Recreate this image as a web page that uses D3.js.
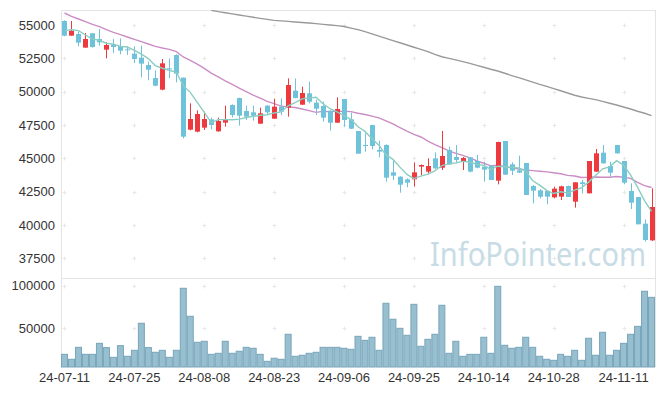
<!DOCTYPE html>
<html>
<head>
<meta charset="utf-8">
<script src="https://cdn.jsdelivr.net/npm/d3@7"></script>
<style>
  body { margin: 0; background: #fff; }
  svg { display: block; font-family: "Noto Sans CJK KR", "Noto Sans", sans-serif; }
</style>
</head>
<body>
<svg id="chart" width="665" height="396"></svg>
<script>
// trading days (yy-mm-dd)
const dates = [
  "24-07-11","24-07-12","24-07-15","24-07-16","24-07-17","24-07-18","24-07-19","24-07-22","24-07-23","24-07-24",
  "24-07-25","24-07-26","24-07-29","24-07-30","24-07-31","24-08-01","24-08-02","24-08-05","24-08-06","24-08-07",
  "24-08-08","24-08-09","24-08-12","24-08-13","24-08-14","24-08-16","24-08-19","24-08-20","24-08-21","24-08-22",
  "24-08-23","24-08-26","24-08-27","24-08-28","24-08-29","24-08-30","24-09-02","24-09-03","24-09-04","24-09-05",
  "24-09-06","24-09-09","24-09-10","24-09-11","24-09-12","24-09-13","24-09-19","24-09-20","24-09-23","24-09-24",
  "24-09-25","24-09-26","24-09-27","24-09-30","24-10-02","24-10-04","24-10-07","24-10-08","24-10-10","24-10-11",
  "24-10-14","24-10-15","24-10-16","24-10-17","24-10-18","24-10-21","24-10-22","24-10-23","24-10-24","24-10-25",
  "24-10-28","24-10-29","24-10-30","24-10-31","24-11-01","24-11-04","24-11-05","24-11-06","24-11-07","24-11-08",
  "24-11-11","24-11-12","24-11-13","24-11-14","24-11-15"
];

const open = [
  55300,54200,54325,53300,54375,53950,53150,53550,53425,53175,
  52850,52550,52000,51025,50150,51750,52750,51050,47150,47000,
  47300,47925,47025,47675,49000,49525,48550,48450,47600,48950,
  47975,48875,48800,50075,49025,49875,49175,48925,48575,47675,
  49450,47925,47050,46000,47500,45625,46000,43950,43625,43425,
  43425,44375,44000,45000,44300,45625,45100,44750,45075,44800,
  44375,44450,43325,46300,44550,44100,44650,42925,42600,42550,
  42075,42125,42925,41750,43200,42375,44000,45425,44425,46000,
  44800,42550,42100,40100,38850
];
const high = [
  55350,55300,54500,54400,54400,54700,53700,53950,54000,53400,
  53400,53450,52250,51600,52450,52500,52800,51050,49125,48600,
  48500,48050,48050,48950,49050,49550,48950,48950,48800,49000,
  49475,49500,51000,51000,50375,50750,49400,49250,48600,49575,
  49450,48425,47050,46875,47500,46325,46050,44875,43650,43500,
  44700,44550,45000,45450,47050,45875,46000,45100,45100,45250,
  44750,44500,46250,46300,44700,45200,44650,43000,42700,42600,
  42875,42950,42950,43200,43375,44800,45700,46000,44750,46000,
  44800,43125,42100,40425,42750
];
const low = [
  54150,54200,53400,53300,53300,53450,52500,52900,52800,52750,
  52150,51075,50850,50400,50100,51000,50700,46500,47100,46950,
  47125,47175,47000,47375,48075,47450,47875,47825,47600,48250,
  47950,48250,48125,49500,49000,49125,48250,47750,47075,47650,
  47375,47200,45350,45500,45675,45075,43250,43375,42425,42825,
  42875,43750,43800,44200,44125,44500,44625,44125,43950,44250,
  43250,43375,43050,43750,43750,43900,42250,41625,42000,41550,
  42000,41875,42100,41300,42375,42375,44000,44600,43625,45350,
  43050,41200,40050,38750,38800
];
const close = [
  54200,54575,53675,53950,53350,53700,53500,53350,53075,53125,
  52450,52100,51650,50450,52125,51700,51350,46625,47950,48325,
  47950,47500,47800,47950,48250,48200,48125,48200,48375,48450,
  48875,48500,50500,49525,49900,49250,48725,48050,47675,48700,
  47875,47225,45350,45950,45925,45500,43550,43700,43025,43175,
  43950,44500,44425,44250,45175,44550,44875,45025,44000,44300,
  44150,43375,46225,43775,44075,43925,42250,42575,42125,42125,
  42725,42900,42100,43200,43075,44800,45375,44625,43925,45375,
  43175,41675,40050,38875,41350
];
const volume = [
  19500,13700,27700,19500,19500,32400,27400,16000,29700,17200,
  24200,55900,27400,21900,24200,16000,24200,96900,64100,33600,
  34800,19500,20700,34800,20700,23100,27700,26600,19500,11300,
  14900,13700,43000,17200,18400,20700,21900,27700,27700,27700,
  26600,25400,40600,35900,39500,24200,79300,60600,50000,41800,
  78100,28900,37100,43000,77000,20700,34800,17200,19500,19500,
  39500,20700,99200,30100,26600,27700,39500,27700,17200,13700,
  12500,19500,17200,24200,12500,38300,18400,45300,18400,24200,
  32400,43000,52300,93400,86300
];
// moving averages
const ma5 = [
  54575,54650,54575,54250,53950,53850,53635,53570,53395,53350,
  53100,52820,52480,51955,51755,51605,51455,50450,49950,49190,
  48440,47670,47905,47905,47890,47940,48065,48145,48230,48270,
  48405,48480,48940,49170,49460,49535,49580,49090,48720,48480,
  48205,47905,47365,47020,46465,45990,45255,44925,44340,43790,
  43480,43670,43815,44060,44460,44580,44655,44775,44725,44550,
  44470,44170,44410,44365,44320,44275,44050,43320,42990,42600,
  42360,42490,42395,42610,42800,43215,43710,44215,44360,44820,
  44495,43755,42840,41830,41025
];
const ma20 = [
  55900,55650,55450,55250,55050,54875,54650,54450,54275,54100,
  53925,53750,53575,53400,53275,53175,53000,52600,52350,52062,
  51750,51396,51102,50802,50547,50272,50003,49746,49511,49277,
  49098,48918,48860,48814,48703,48580,48449,48520,48506,48525,
  48521,48507,48385,48285,48169,48034,47805,47580,47312,47048,
  46802,46602,46298,46034,45798,45563,45371,45220,45036,44816,
  44630,44437,44481,44372,44280,44201,44136,44080,44035,43982,
  43921,43841,43725,43672,43567,43580,43605,43585,43581,43635,
  43586,43501,43192,42947,42811
];
const ma60 = [
  null,null,null,null,null,null,null,null,null,null,
  null,null,null,null,null,null,null,null,null,null,
  null,56100,56000,55920,55830,55750,55670,55580,55500,55420,
  55350,55310,55270,55230,55190,55150,55100,55050,55000,54950,
  54890,54770,54650,54500,54330,54170,54000,53830,53670,53500,
  53330,53170,53000,52800,52620,52500,52380,52250,52120,51970,
  51830,51680,51550,51380,51200,51050,50880,50720,50550,50400,
  50230,50070,49900,49730,49600,49500,49400,49270,49130,49000,
  48850,48700,48530,48380,48200
];
const priceTicks = [37500, 40000, 42500, 45000, 47500, 50000, 52500, 55000];
const volumeTicks = [50000, 100000];

const svg = d3.select("#chart");
const plotLeft = 61, plotRight = 655, plotTop = 10, plotMid = 278, plotBottom = 367;

const idx = d3.range(dates.length);
const x = d3.scaleBand().domain(idx).range([plotLeft, plotRight]).padding(0);
const cx = i => x(i) + x.bandwidth() / 2;
const y = d3.scaleLinear().domain([36025, 56125]).range([plotMid, plotTop]);
const yv = d3.scaleLinear().domain([4650, 108950]).range([plotBottom, plotMid]);
const xTickIdx = idx.filter(i => i % 10 === 0);

// frame
const frame = svg.append("g").attr("stroke", "#e4e4e4").attr("stroke-width", 1).attr("fill", "none");
frame.append("line").attr("x1", plotLeft).attr("x2", plotRight).attr("y1", plotTop + 0.5).attr("y2", plotTop + 0.5);
frame.append("line").attr("x1", plotLeft).attr("x2", plotRight).attr("y1", plotMid + 0.5).attr("y2", plotMid + 0.5);
frame.append("line").attr("x1", plotLeft + 0.5).attr("x2", plotLeft + 0.5).attr("y1", plotTop).attr("y2", plotBottom);
frame.append("line").attr("x1", plotRight + 0.5).attr("x2", plotRight + 0.5).attr("y1", plotTop).attr("y2", plotBottom);

// grid crosses
const cross = svg.append("g").attr("stroke", "#e8e8e8").attr("stroke-width", 1);
function addCross(px, py) {
  px = Math.round(px) + 0.5; py = Math.round(py) + 0.5;
  cross.append("line").attr("x1", px - 2).attr("x2", px + 2).attr("y1", py).attr("y2", py);
  cross.append("line").attr("x1", px).attr("x2", px).attr("y1", py - 2).attr("y2", py + 2);
}
xTickIdx.forEach(i => {
  priceTicks.forEach(t => addCross(cx(i), y(t)));
  volumeTicks.forEach(t => addCross(cx(i), yv(t)));
});

// watermark
svg.append("text")
  .attr("x", 430).attr("y", 266)
  .attr("textLength", 216).attr("lengthAdjust", "spacingAndGlyphs")
  .attr("font-size", 32).attr("fill", "#c8dce6")
  .attr("font-family", "'Noto Sans', sans-serif")
  .text("InfoPointer.com");

// volume bars
svg.append("g").selectAll("rect").data(idx).join("rect")
  .attr("x", i => x(i) + 0.5)
  .attr("y", i => yv(volume[i]))
  .attr("width", x.bandwidth() - 1)
  .attr("height", i => plotBottom - yv(volume[i]))
  .attr("fill", "#97bfcf")
  .attr("stroke", "#78a5ba")
  .attr("stroke-width", 1);

// moving averages
svg.append("clipPath").attr("id", "plot").append("rect")
  .attr("x", plotLeft).attr("y", plotTop).attr("width", plotRight - plotLeft).attr("height", plotMid - plotTop);
function maLine(arr, color) {
  svg.append("path")
    .datum(idx.filter(i => arr[i] != null))
    .attr("clip-path", "url(#plot)")
    .attr("fill", "none").attr("stroke", color).attr("stroke-width", 1.4)
    .attr("d", d3.line().x(i => cx(i)).y(i => y(arr[i])));
}
maLine(ma60, "#9a9a9a");
maLine(ma20, "#cc8dc6");

// candles
const bw = 5;
const candle = svg.append("g").selectAll("g").data(idx).join("g")
  .attr("fill", i => close[i] >= open[i] ? "#ee3a3f" : "#6ec2da")
  .attr("stroke", i => close[i] >= open[i] ? "#ee3a3f" : "#6ec2da");
candle.append("line")
  .attr("x1", i => Math.round(cx(i)) + 0.5).attr("x2", i => Math.round(cx(i)) + 0.5)
  .attr("y1", i => y(high[i])).attr("y2", i => y(low[i]))
  .attr("stroke-width", 1);
candle.append("rect")
  .attr("x", i => Math.round(cx(i)) + 0.5 - bw / 2)
  .attr("y", i => y(Math.max(open[i], close[i])))
  .attr("width", bw)
  .attr("height", i => Math.max(1, Math.abs(y(open[i]) - y(close[i]))))
  .attr("stroke", "none");

maLine(ma5, "#8ccdc2");

// axes
const axisText = g => g.selectAll("text").attr("fill", "#333").attr("font-size", 13);
svg.append("g").attr("transform", `translate(${plotLeft},0)`)
  .call(d3.axisLeft(y).tickValues(priceTicks).tickSize(0).tickPadding(6).tickFormat(d3.format("d")))
  .call(g => g.select(".domain").remove())
  .call(axisText);
svg.append("g").attr("transform", `translate(${plotLeft},0)`)
  .call(d3.axisLeft(yv).tickValues(volumeTicks).tickSize(0).tickPadding(6).tickFormat(d3.format("d")))
  .call(g => g.select(".domain").remove())
  .call(axisText);
svg.append("g").attr("transform", `translate(0,${plotBottom})`)
  .call(d3.axisBottom(x).tickValues(xTickIdx).tickSize(0).tickPadding(6).tickFormat(i => dates[i]))
  .call(g => g.select(".domain").remove())
  .call(axisText);
</script>
</body>
</html>
